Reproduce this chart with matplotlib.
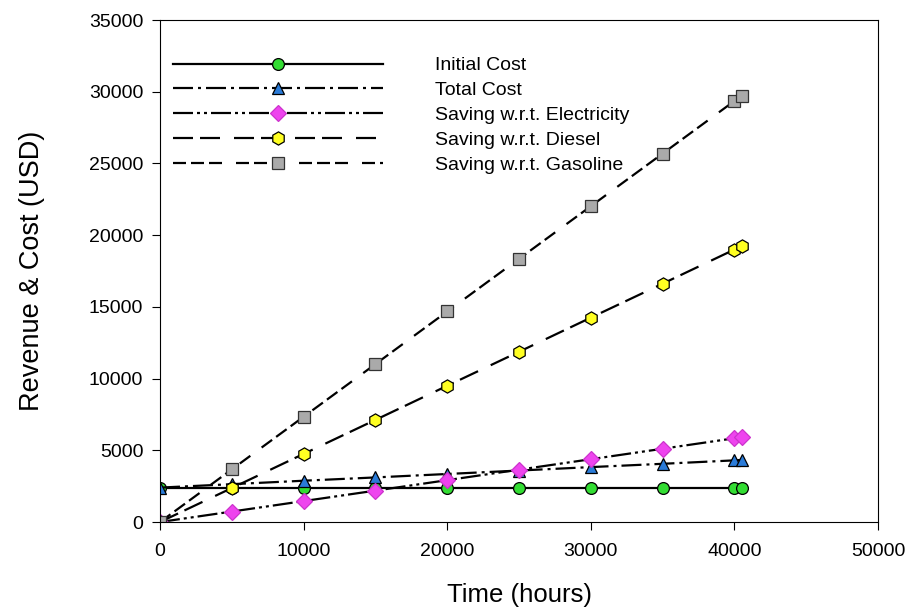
import matplotlib
matplotlib.use("Agg")
import matplotlib.pyplot as plt

plt.rcParams['font.family'] = ['Liberation Sans', 'DejaVu Sans']
plt.rcParams['lines.scale_dashes'] = False

# data
hours = [0, 5000, 10000, 15000, 20000, 25000, 30000, 35000, 40000, 40500]
initial_cost = [2400, 2400, 2400, 2400, 2400, 2400, 2400, 2400, 2400, 2400]
total_cost = [2400, 2640, 2880, 3110, 3350, 3590, 3830, 4060, 4300, 4330]
saving_elec = [0, 730, 1460, 2190, 2920, 3650, 4380, 5110, 5840, 5910]
saving_diesel = [0, 2370, 4750, 7120, 9500, 11870, 14250, 16620, 19000, 19240]
saving_gas = [0, 3670, 7340, 11010, 14680, 18350, 22020, 25690, 29360, 29730]

fig = plt.figure(figsize=(9.05, 6.08), dpi=100)
ax = fig.add_axes([0.1768, 0.1414, 0.7934, 0.8256])

px = 0.72  # pixel -> point
ax.plot(hours, initial_cost, '-', color='black', lw=1.6, marker='o', ms=8.5,
        mfc='#33dd33', mec='black', mew=0.9, label='Initial Cost')
ax.plot(hours, total_cost, color='black', lw=1.6, dashes=(20*px, 5*px, 3*px, 5*px),
        marker='^', ms=9, mfc='#2a7bd8', mec='black', mew=0.9, label='Total Cost')
ax.plot(hours, saving_elec, color='black', lw=1.6,
        dashes=(20*px, 4*px, 3*px, 4*px, 3*px, 4*px),
        marker='D', ms=8, mfc='#ee44ee', mec='#cc33cc', mew=0.9,
        label='Saving w.r.t. Electricity')
ax.plot(hours, saving_diesel, color='black', lw=1.6, dashes=(20*px, 7*px, 20*px, 14*px),
        marker='h', ms=9.5, mfc='#ffff22', mec='black', mew=0.9,
        label='Saving w.r.t. Diesel')
ax.plot(hours, saving_gas, color='black', lw=1.6,
        dashes=(13*px, 5*px, 13*px, 5*px, 13*px, 14*px),
        marker='s', ms=8, mfc='#aaaaaa', mec='#333333', mew=0.9,
        label='Saving w.r.t. Gasoline')

ax.set_xlim(0, 50000)
ax.set_ylim(0, 35000)
ax.set_xticks(range(0, 50001, 10000))
ax.set_yticks(range(0, 35001, 5000))
ax.tick_params(labelsize=14, direction='out', length=6, pad=6)
ax.tick_params(axis='x', pad=9)
ax.set_xlabel("Time (hours)", fontsize=18.5, labelpad=17)
ax.set_ylabel("Revenue & Cost (USD)", fontsize=19.5, labelpad=32)

ax.legend(loc='upper left', bbox_to_anchor=(0.018, 0.927), frameon=False,
          fontsize=14, handlelength=10.8, handletextpad=2.67, labelspacing=0.37,
          numpoints=1, borderaxespad=0, borderpad=0)

fig.savefig("out.png", dpi=100)
